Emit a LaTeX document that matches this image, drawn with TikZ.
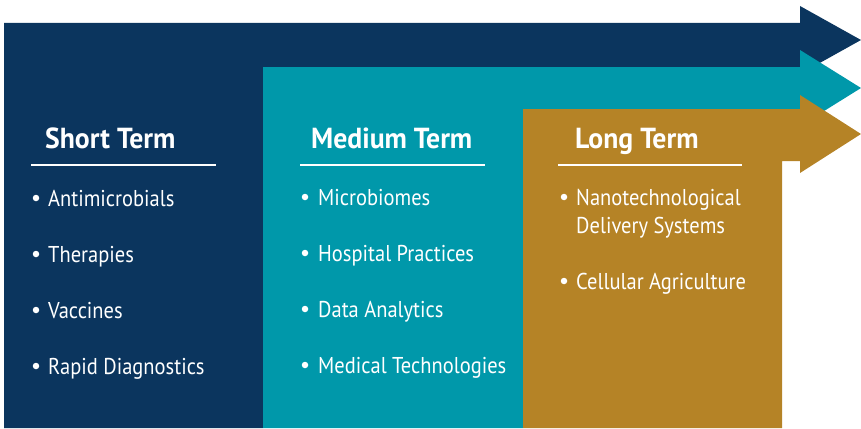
\documentclass[tikz,border=0pt]{standalone}
\usepackage{fontspec}
\newfontfamily\itemfont[FakeStretch=0.895]{PT Sans}
\newfontfamily\headfont[FakeStretch=0.955]{PT Sans}
\definecolor{navy}{HTML}{0B355E}
\definecolor{teal}{HTML}{0098AA}
\definecolor{gold}{HTML}{B58326}
\tikzset{
  band/.style={fill=#1, draw=none},
  head/.style={anchor=base west, inner sep=0pt, text=white, font=\headfont\bfseries\fontsize{29}{34}\selectfont},
  itemtxt/.style={anchor=base west, inner sep=0pt, text=white, font=\itemfont\fontsize{22.9}{28}\selectfont},
  dot/.style={circle, fill=white, inner sep=0pt, minimum size=6.5pt},
  rule/.style={draw=white, line width=2.5pt}
}
\begin{document}
\begin{tikzpicture}[x=1pt,y=-1pt]
\useasboundingbox (0,0) rectangle (861,428);
% navy band
\path[band=navy] (4,23) -- (800,23) -- (800,6) -- (861,40) -- (800,74) -- (800,67) -- (263,67) -- (263,428) -- (4,428) -- cycle;
% teal band
\path[band=teal] (263,67) -- (800,67) -- (800,50) -- (861,88) -- (800,126) -- (800,109) -- (523,109) -- (523,428) -- (263,428) -- cycle;
% gold band
\path[band=gold] (523,109) -- (800,109) -- (800,95) -- (861,134) -- (800,173) -- (800,161) -- (782,161) -- (782,428) -- (523,428) -- cycle;

% headings
\node[head] (hS) at (45,148) {Short Term};
\node[head] (hM) at (311,148) {Medium Term};
\node[head] (hL) at (575,148) {Long Term};
\coordinate (rS1) at (31,165); \coordinate (rS2) at (216,165);
\coordinate (rM1) at (300,165); \coordinate (rM2) at (485,165);
\coordinate (rL1) at (558,165); \coordinate (rL2) at (742,165);
\draw[rule] (rS1) -- (rS2);
\draw[rule] (rM1) -- (rM2);
\draw[rule] (rL1) -- (rL2);

% short term items
\node[dot] (bS1) at (36,198) {}; \node[itemtxt] (tS1) at (48,206) {Antimicrobials};
\node[dot] (bS2) at (36,254) {}; \node[itemtxt] (tS2) at (48,262) {Therapies};
\node[dot] (bS3) at (36,310) {}; \node[itemtxt] (tS3) at (48,318) {Vaccines};
\node[dot] (bS4) at (36,366) {}; \node[itemtxt] (tS4) at (48,374) {Rapid Diagnostics};

% medium term items
\node[dot] (bM1) at (305,197) {}; \node[itemtxt] (tM1) at (318,205) {Microbiomes};
\node[dot] (bM2) at (305,253) {}; \node[itemtxt] (tM2) at (318,261) {Hospital Practices};
\node[dot] (bM3) at (305,309) {}; \node[itemtxt] (tM3) at (318,317) {Data Analytics};
\node[dot] (bM4) at (305,365) {}; \node[itemtxt] (tM4) at (318,373) {Medical Technologies};

% long term items
\node[dot] (bL1) at (564,197) {}; \node[itemtxt] (tL1) at (576,205) {Nanotechnological};
\node[itemtxt] (tL1b) at (576,233) {Delivery Systems};
\node[dot] (bL2) at (564,281) {}; \node[itemtxt] (tL2) at (576,289) {Cellular Agriculture};
\end{tikzpicture}
\end{document}
